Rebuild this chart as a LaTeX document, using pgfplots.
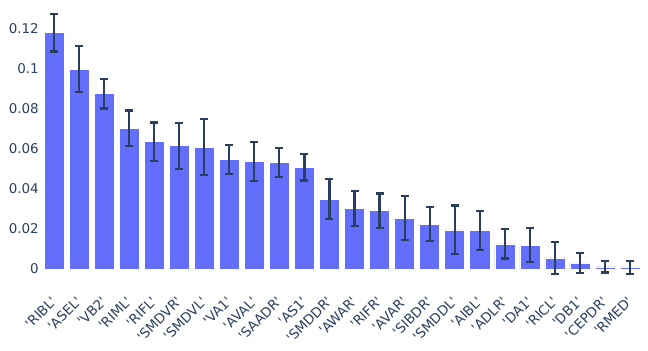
\documentclass[border=0pt]{standalone}
\usepackage{pgfplots}
\pgfplotsset{compat=1.18}
\usepackage{pgfplotstable}
\usepackage{fontspec}
\setmainfont{DejaVu Sans}
\definecolor{barblue}{HTML}{636EFA}
\definecolor{plotlytext}{HTML}{2A3F5F}
\newcommand{\q}[1]{\textquotesingle#1\textquotesingle}

\pgfplotstableread{
idx val err
0 0.1179 0.0094
1 0.0996 0.0115
2 0.0874 0.0074
3 0.0702 0.0088
4 0.0635 0.0096
5 0.0615 0.0115
6 0.0607 0.0140
7 0.0547 0.0073
8 0.0535 0.0097
9 0.0530 0.0073
10 0.0507 0.0066
11 0.0349 0.0099
12 0.0301 0.0087
13 0.0291 0.0085
14 0.0253 0.0110
15 0.0224 0.0084
16 0.0195 0.0122
17 0.0193 0.0098
18 0.0125 0.0073
19 0.0118 0.0085
20 0.0055 0.0080
21 0.0030 0.0050
22 0.0010 0.0028
23 0.0008 0.0033
}\datatable

\begin{document}
\begin{tikzpicture}
\begin{axis}[
  at={(0,0)}, anchor=south west,
  scale only axis, width=601bp, height=272.7bp,
  xmin=-0.5, xmax=23.5, ymin=-0.0035, ymax=0.1325,
  axis line style={draw=none},
  major tick length=0pt,
  tick style={draw=none},
  ytick={0,0.02,0.04,0.06,0.08,0.1,0.12},
  yticklabels={0,0.02,0.04,0.06,0.08,0.1,0.12},
  xtick={0,...,23},
  xticklabels={\q{RIBL},\q{ASEL},\q{VB2},\q{RIML},\q{RIFL},\q{SMDVR},\q{SMDVL},\q{VA1},\q{AVAL},\q{SAADR},\q{AS1},\q{SMDDR},\q{AWAR},\q{RIFR},\q{AVAR},\q{SIBDR},\q{SMDDL},\q{AIBL},\q{ADLR},\q{DA1},\q{RICL},\q{DB1},\q{CEPDR},\q{RMED}},
  tick label style={font=\fontsize{13.5}{16}\selectfont, text=plotlytext},
  yticklabel style={anchor=east, inner sep=0pt, xshift=-2.5bp},
  xticklabel style={rotate=45, anchor=east, inner sep=0pt},
  xticklabel shift=23bp,
]
\addplot[ybar, bar width=0.8, fill=barblue, draw=white, line width=0.5bp,
  error bars/.cd, y dir=both, y explicit,
  error bar style={line width=2.2bp, draw=plotlytext, solid},
  error mark options={rotate=90, line width=2.2bp, draw=plotlytext, mark size=4bp}]
  table[x=idx, y=val, y error=err] {\datatable};
\end{axis}
\pgfresetboundingbox
\useasboundingbox (-41.5bp,-75bp) rectangle (606.5bp,276bp);
\end{tikzpicture}
\end{document}
